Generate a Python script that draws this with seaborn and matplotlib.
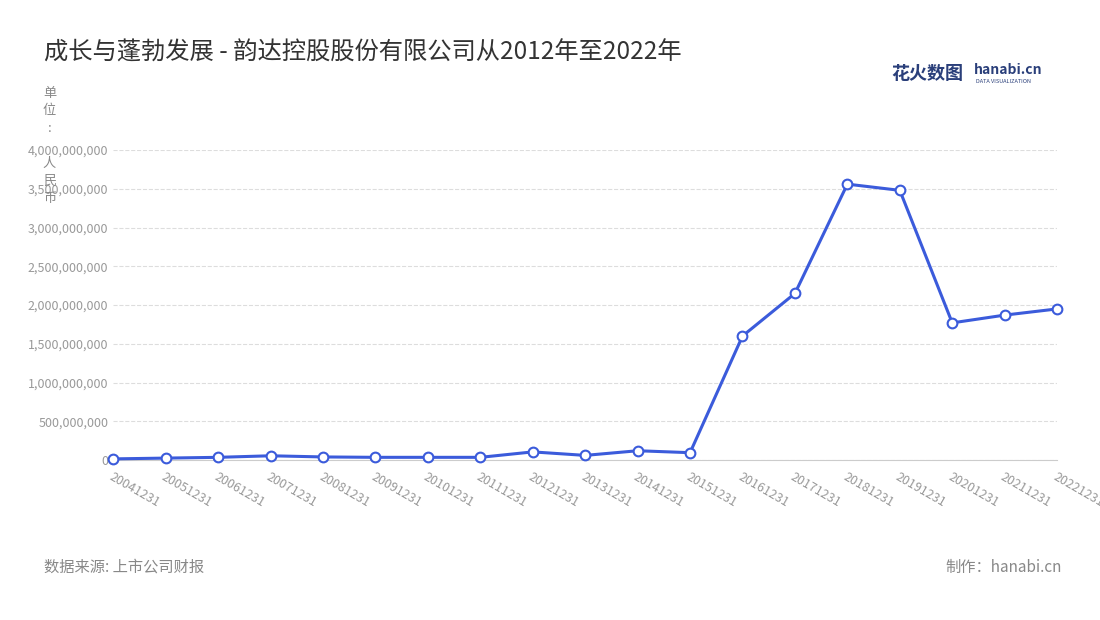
import matplotlib
matplotlib.use("Agg")
import matplotlib.pyplot as plt
import seaborn as sns
import pandas as pd
from matplotlib.ticker import FuncFormatter

years = ["20041231","20051231","20061231","20071231","20081231","20091231","20101231",
         "20111231","20121231","20131231","20141231","20151231","20161231","20171231",
         "20181231","20191231","20201231","20211231","20221231"]
values = [15e6, 25e6, 35e6, 55e6, 40e6, 35e6, 35e6, 35e6, 105e6, 60e6, 120e6, 95e6,
          1.60e9, 2.15e9, 3.56e9, 3.48e9, 1.77e9, 1.87e9, 1.95e9]
yticks = [0, 5e8, 1e9, 1.5e9, 2e9, 2.5e9, 3e9, 3.5e9, 4e9]

sns.set_style("white")
plt.rcParams['font.family'] = ['Noto Sans CJK SC', 'DejaVu Sans']

df = pd.DataFrame({"x": range(len(years)), "v": values})
fig = plt.figure(figsize=(11, 6.2), dpi=100)
ax = fig.add_axes([0.103, 0.258, 0.858, 0.5])
sns.lineplot(data=df, x="x", y="v", ax=ax, color="#3b5bdb", linewidth=2.2,
             marker="o", markersize=7, markerfacecolor="white",
             markeredgecolor="#3b5bdb", markeredgewidth=1.5, clip_on=False, zorder=5)
ax.set_xlim(0, len(years) - 1)
ax.set_ylim(0, 4e9)
ax.set_yticks(yticks)
ax.yaxis.set_major_formatter(FuncFormatter(lambda v, p: f"{int(v):,}"))
ax.set_xticks(range(len(years)))
ax.set_xticklabels(years, rotation=-30, ha="left", rotation_mode="anchor")
ax.tick_params(axis="both", colors="#999999", labelsize=9, length=4)
ax.tick_params(axis="y", length=0)
ax.grid(axis="y", color="#dddddd", linestyle="--", linewidth=0.8)
for s in ["top", "right", "left"]:
    ax.spines[s].set_visible(False)
ax.spines["bottom"].set_color("#cccccc")
ax.set_xlabel("")
ax.set_ylabel("")

fig.text(0.04, 0.915, "成长与蓬勃发展 - 韵达控股股份有限公司从2012年至2022年",
         fontsize=17.5, color="#333333", va="center")
fig.text(0.045, 0.86, "单\n位\n:\n\n人\n民\n币", fontsize=9.5, color="#888888",
         va="top", ha="center", linespacing=1.45)
fig.text(0.81, 0.882, "花火数图", fontsize=13, color="#2a3f7a", weight="bold", va="center")
fig.text(0.885, 0.887, "hanabi.cn", fontsize=10, color="#2a3f7a", weight="bold", va="center")
fig.text(0.887, 0.868, "DATA VISUALIZATION", fontsize=4, color="#2a3f7a", va="center")
fig.text(0.04, 0.085, "数据来源: 上市公司财报", fontsize=11, color="#888888", va="center")
fig.text(0.965, 0.085, "制作：hanabi.cn", fontsize=11, color="#888888", va="center", ha="right")

fig.savefig("out.png", dpi=100)
